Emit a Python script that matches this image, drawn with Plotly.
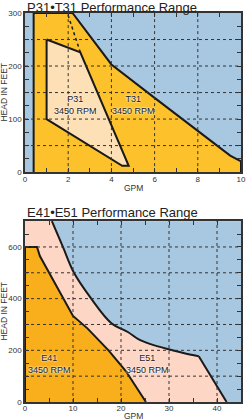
import plotly.graph_objects as go

# ---------------- data ----------------
# Top chart: P31 / T31
t31_gpm  = [0.4, 0.4, 2.2, 4.0, 6.0, 8.0, 9.0, 9.5, 10.0, 10.0]
t31_head = [0,   300, 300, 203, 140, 77,  45,  31,  20,   0]
p31_gpm  = [1.0, 2.56, 4.8, 4.5, 1.0, 1.0]
p31_head = [250, 226,  12,  12,  100, 250]
p31_ext_gpm  = [2.56, 1.96]
p31_ext_head = [226, 300]

# Bottom chart: E41 / E51
e51_gpm  = [0, 0, 5.6, 7.9, 10.2, 13.8, 18.0, 21.5, 23.6, 26.0, 29.7, 33.0, 36.2, 42.0]
e51_head = [0, 700, 700, 600, 500, 400, 305, 270, 243, 225, 205, 190, 177, 0]
e41_gpm  = [0, 0, 2.5, 3.1, 10.0, 13.0, 17.4, 21.0, 25.2]
e41_head = [0, 600, 600, 565, 333, 285, 200, 120, 0]

top_xticks = [0, 2, 4, 6, 8, 10]
top_yticks = [0, 50, 100, 150, 200, 250, 300]
top_ylabels = ["0", "", "100", "", "200", "", "300"]
bot_xticks = [0, 10, 20, 30, 40]
bot_yticks = [0, 100, 200, 300, 400, 500, 600, 700]
bot_ylabels = ["0", "", "200", "", "400", "", "600", ""]

labels_top = [("P31<br>3450 RPM", 2.35, 127), ("T31<br>3450 RPM", 5.0, 127)]
labels_bot = [("E41<br>3450 RPM", 5.1, 147), ("E51<br>3450 RPM", 25.5, 147)]

# ---------------- style ----------------
BLUE = "#a8c8e1"
GOLD = "#fdc12b"
PEACH = "#fde0b6"
ORANGE = "#f9ae1c"
PINK = "#fdd6c6"
INK = "#1a1a1a"
AX = "#333333"
FONT = "Liberation Sans, Arial, sans-serif"

fig = go.Figure()

def fill(x, y, color, xa, ya, lw=2):
    fig.add_trace(go.Scatter(x=x, y=y, mode="lines", fill="toself", fillcolor=color,
                             line=dict(color=INK, width=lw), xaxis=xa, yaxis=ya,
                             hoverinfo="skip", showlegend=False))

def outline(x, y, xa, ya, shape="linear", width=2, dash="solid"):
    fig.add_trace(go.Scatter(x=x, y=y, mode="lines",
                             line=dict(color=INK, width=width, shape=shape, dash=dash),
                             xaxis=xa, yaxis=ya, hoverinfo="skip", showlegend=False))

def grid(xs, ys, xr, yr, xa, ya):
    gx, gy = [], []
    for v in xs:
        if xr[0] < v < xr[1]:
            gx += [v, v, None]; gy += [yr[0], yr[1], None]
    for v in ys:
        if yr[0] < v < yr[1]:
            gx += [xr[0], xr[1], None]; gy += [v, v, None]
    fig.add_trace(go.Scatter(x=gx, y=gy, mode="lines", line=dict(color=AX, width=1, dash="dot"),
                             xaxis=xa, yaxis=ya, hoverinfo="skip", showlegend=False))

# top
fill(t31_gpm, t31_head, GOLD, "x", "y")
fill(p31_gpm, p31_head, PEACH, "x", "y")
outline(p31_ext_gpm, p31_ext_head, "x", "y", width=1.5, dash="dot")
grid(top_xticks, top_yticks, [0, 10], [0, 300], "x", "y")

# bottom
fill(e51_gpm, e51_head, PINK, "x2", "y2", lw=0)
outline(e51_gpm[2:-1], e51_head[2:-1], "x2", "y2", shape="spline")
outline(e51_gpm[-2:], e51_head[-2:], "x2", "y2")
fill(e41_gpm, e41_head, ORANGE, "x2", "y2")
grid(bot_xticks, bot_yticks, [0, 45], [0, 700], "x2", "y2")

tickfont = dict(family=FONT, size=8, color=AX)
common = dict(showline=True, linecolor=AX, linewidth=1.5, mirror="allticks",
              ticks="inside", ticklen=4, tickwidth=1, tickcolor=AX,
              showgrid=False, zeroline=False, tickfont=tickfont,
              layer="above traces", fixedrange=True)

fig.update_layout(
    width=250, height=420,
    margin=dict(l=25, r=4, t=13, b=18),
    paper_bgcolor="white", plot_bgcolor=BLUE,
    showlegend=False,
    xaxis=dict(domain=[0, 1], range=[0, 10], anchor="y", tickmode="array", tickvals=top_xticks,
               ticklabelstandoff=-1,
               minor=dict(dtick=1, ticks="inside", ticklen=4, tickcolor=AX), **common),
    yaxis=dict(domain=[0.591, 1.0], range=[0, 300], anchor="x", tickmode="array",
               tickvals=top_yticks, ticktext=top_ylabels,
               minor=dict(dtick=25, ticks="inside", ticklen=4, tickcolor=AX), **common),
    xaxis2=dict(domain=[0, 1], range=[0, 45], anchor="y2", tickmode="array", tickvals=bot_xticks,
                ticklabelstandoff=-2,
                minor=dict(dtick=5, ticks="inside", ticklen=4, tickcolor=AX), **common),
    yaxis2=dict(domain=[0, 0.465], range=[0, 700], anchor="x2", tickmode="array",
                tickvals=bot_yticks, ticktext=bot_ylabels,
                minor=dict(dtick=50, ticks="inside", ticklen=4, tickcolor=AX), **common),
)

ann = []
shadow = "0px 0px 2px white, 0px 0px 2px white"
for txt, x, y in labels_top:
    ann.append(dict(text=txt, x=x, y=y, xref="x", yref="y", showarrow=False,
                    font=dict(family=FONT, size=9, color=INK, shadow=shadow)))
for txt, x, y in labels_bot:
    ann.append(dict(text=txt, x=x, y=y, xref="x2", yref="y2", showarrow=False,
                    font=dict(family=FONT, size=9, color=INK, shadow=shadow)))

titles = [("P31•T31 Performance Range", -4, "y domain"),
          ("E41•E51 Performance Range", -1, "y2 domain")]
for txt, ys, yref in titles:
    ann.append(dict(text=txt, x=0, y=1.0, xref="x domain", yref=yref, xanchor="left",
                    yanchor="bottom", yshift=ys, showarrow=False,
                    font=dict(family=FONT, size=13, color="#222222")))

# axis titles
for yref in ["y domain", "y2 domain"]:
    ann.append(dict(text="HEAD IN FEET", x=0, xref="x domain", xanchor="center", xshift=-21,
                    y=0.5, yref=yref, textangle=-90, showarrow=False,
                    font=dict(family=FONT, size=8.5, color=AX)))
ann.append(dict(text="GPM", x=0.5, xref="x domain", y=0, yref="y domain", yanchor="top",
                yshift=-9, showarrow=False, font=dict(family=FONT, size=8.5, color=AX)))
ann.append(dict(text="GPM", x=0.5, xref="x2 domain", y=0, yref="y2 domain", yanchor="top",
                yshift=-7, showarrow=False, font=dict(family=FONT, size=8.5, color=AX)))
fig.update_layout(annotations=ann)

fig.write_html("out.html")
